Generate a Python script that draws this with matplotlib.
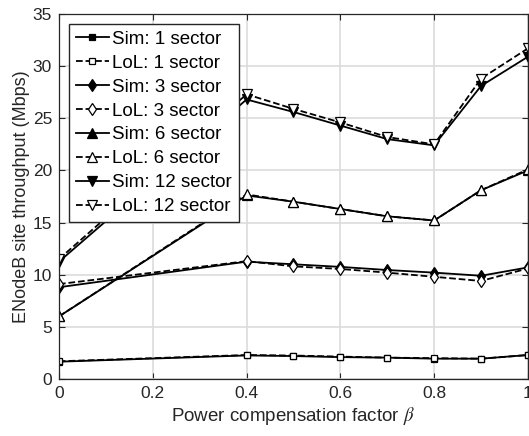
import numpy as np
from matplotlib import pyplot as plt

plt.rcParams['font.family'] = ['Liberation Sans', 'DejaVu Sans']
plt.rcParams['mathtext.fontset'] = 'stix'

beta = [0, 0.4, 0.5, 0.6, 0.7, 0.8, 0.9, 1.0]

sim_1 = [1.66, 2.26, 2.2, 2.1, 2.05, 1.95, 1.95, 2.3]
lol_1 = [1.7, 2.3, 2.25, 2.15, 2.05, 2.0, 1.95, 2.3]
sim_3 = [8.8, 11.25, 11.0, 10.75, 10.45, 10.2, 9.9, 10.7]
lol_3 = [9.1, 11.3, 10.8, 10.55, 10.2, 9.8, 9.4, 10.6]
sim_6 = [6.0, 17.6, 17.0, 16.3, 15.6, 15.2, 18.1, 20.0]
lol_6 = [6.0, 17.7, 17.0, 16.3, 15.6, 15.2, 18.1, 20.1]
sim_12 = [11.25, 26.8, 25.6, 24.3, 23.0, 22.4, 28.1, 30.9]
lol_12 = [11.5, 27.3, 25.9, 24.6, 23.2, 22.5, 28.8, 31.7]

series = [
    ("Sim: 1 sector", sim_1, 's', True),
    ("LoL: 1 sector", lol_1, 's', False),
    ("Sim: 3 sector", sim_3, 'd', True),
    ("LoL: 3 sector", lol_3, 'd', False),
    ("Sim: 6 sector", sim_6, '^', True),
    ("LoL: 6 sector", lol_6, '^', False),
    ("Sim: 12 sector", sim_12, 'v', True),
    ("LoL: 12 sector", lol_12, 'v', False),
]

fig = plt.figure(figsize=(5.29, 4.36), dpi=100)
ax = fig.add_axes([0.1115, 0.1307, 0.8865, 0.8373])

for label, y, m, filled in series:
    ms = 5 if m == 's' else 6.5
    ax.plot(beta, y, color='black', linestyle='-' if filled else '--',
            linewidth=1.3, marker=m, markersize=ms,
            markerfacecolor='black' if filled else 'white',
            markeredgecolor='black', markeredgewidth=0.9, label=label)

ax.set_xlim(0, 1)
ax.set_ylim(0, 35)
ax.set_xticks([0, 0.2, 0.4, 0.6, 0.8, 1])
ax.set_xticklabels(['0', '0.2', '0.4', '0.6', '0.8', '1'])
ax.set_yticks(range(0, 36, 5))
ax.grid(True, color='#dcdcdc', linewidth=1.2)
ax.set_axisbelow(True)
ax.tick_params(direction='in', top=True, right=True, labelsize=12.5,
               length=4, width=0.8, colors='#262626', pad=5)
for s in ax.spines.values():
    s.set_color('#262626')
    s.set_linewidth(0.9)

ax.set_xlabel(r'Power compensation factor $\beta$', fontsize=13.5, color='#262626',
              labelpad=3)
ax.set_ylabel('ENodeB site throughput (Mbps)', fontsize=13, color='#262626',
              labelpad=2)

leg = ax.legend(loc='upper left', fontsize=13.5, handlelength=1.75,
                handletextpad=0.2, borderaxespad=0.55, labelspacing=0.36,
                borderpad=0.35, fancybox=False, framealpha=1)
leg.get_frame().set_edgecolor('#262626')
leg.get_frame().set_linewidth(1.0)

plt.savefig('out.png', dpi=100)
